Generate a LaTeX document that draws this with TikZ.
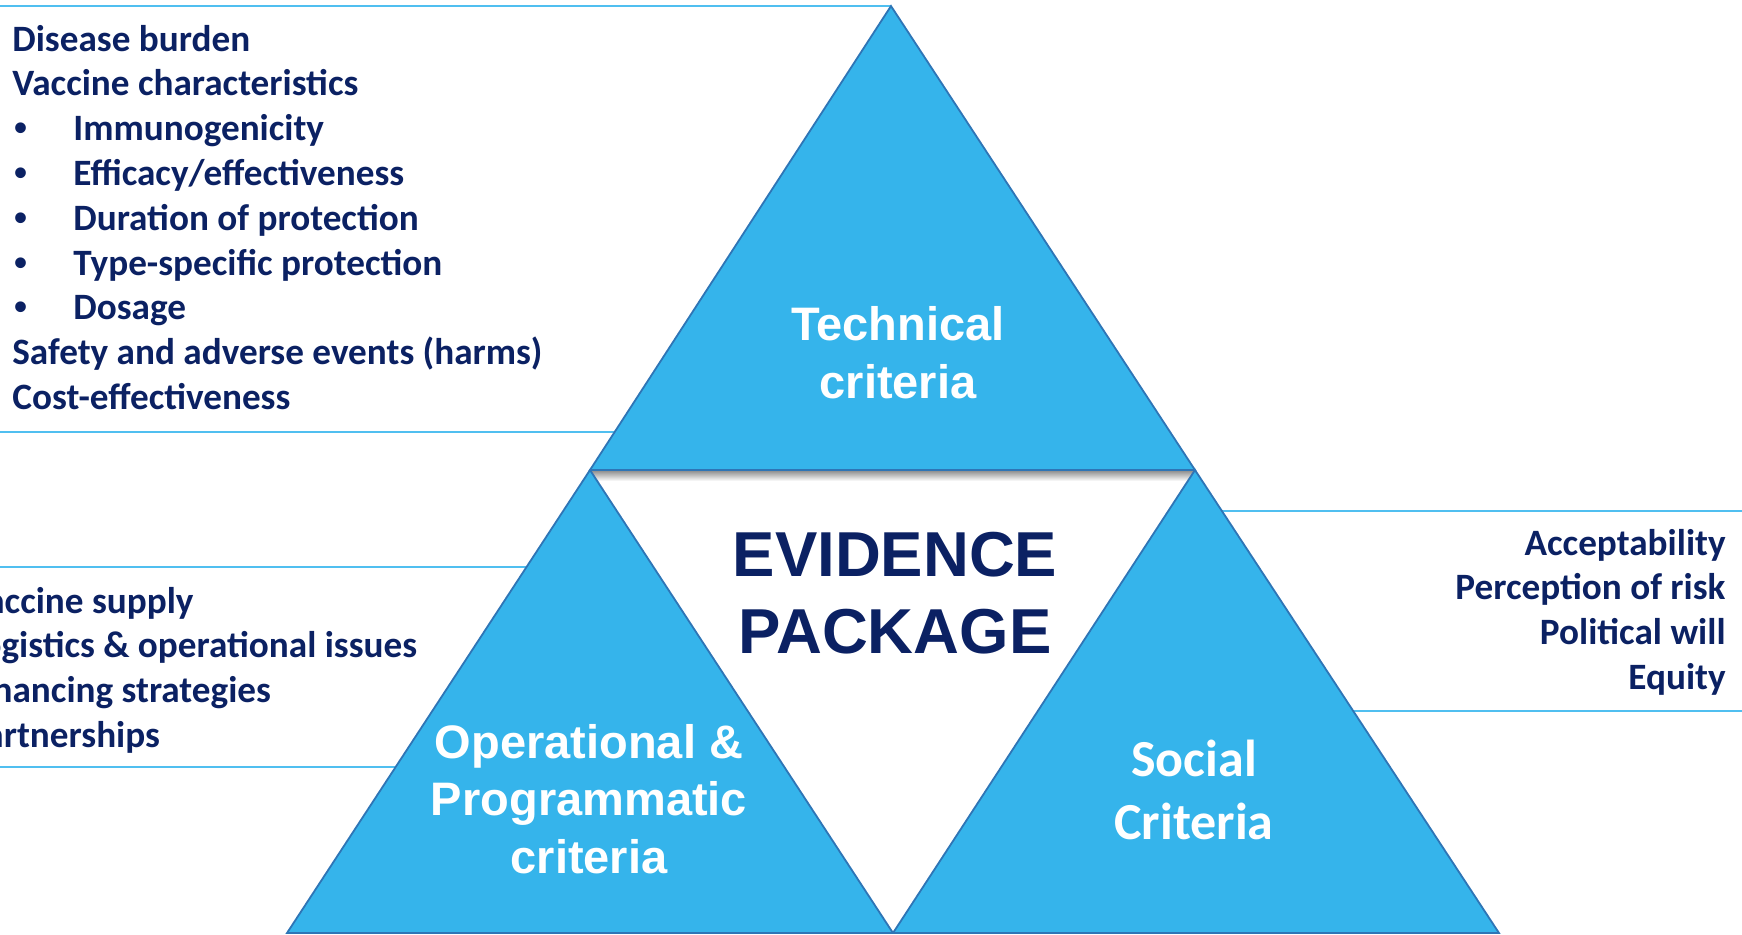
\documentclass[tikz,border=0pt]{standalone}
\usepackage{fontspec}
\setmainfont{Carlito}
\newfontfamily\headfont{Liberation Sans}
\usetikzlibrary{calc}

\definecolor{critblue}{HTML}{35B4EB}
\definecolor{critedge}{HTML}{2E75B6}
\definecolor{lineblue}{HTML}{50BFF0}
\definecolor{navy}{HTML}{0B2163}

\newcommand\bul{\makebox[30.5pt][l]{\hspace{1.2pt}{\headfont\textbullet}}}

\begin{document}
\begin{tikzpicture}[x=0.5pt,y=-0.5pt,
    tripiece/.style={fill=critblue, draw=critedge, line width=0.9pt, line join=miter},
    sideline/.style={draw=lineblue, line width=1.1pt},
    critlist/.style={inner sep=0pt, text=navy, align=left,
      font=\bfseries\fontsize{18.6}{22.4}\selectfont},
    crittitle/.style={inner sep=0pt, text=white, align=center}]
  \useasboundingbox (0,0) rectangle (1742,934);
  \clip (0,0) rectangle (1742,934);

  % corners of the three triangles
  \coordinate (top) at (891,6);
  \coordinate (midL) at (590,470);
  \coordinate (midR) at (1195,470);
  \coordinate (botL) at (287,933);
  \coordinate (botM) at (893,933);
  \coordinate (botR) at (1499,933);

  % rules framing the lists, they run under the triangles
  \draw[sideline] (0,6) -- (top);
  \draw[sideline] (0,432) -- (700,432);
  \draw[sideline] (0,567) -- (600,567);
  \draw[sideline] (0,767) -- (500,767);
  \draw[sideline] (1200,511) -- (1742,511);
  \draw[sideline] (1300,711) -- (1742,711);

  \draw[tripiece] (top) -- (midR) -- (midL) -- cycle;
  \shade[top color=black!40, bottom color=white] ($(midL)+(0,1.5)$) rectangle ($(midR)+(0,11)$);
  \draw[tripiece] (midL) -- (botM) -- (botL) -- cycle;
  \draw[tripiece] (midR) -- (botR) -- (botM) -- cycle;

  % the base anchor of these sits on the last line
  \node[crittitle, anchor=base, font=\headfont\bfseries\fontsize{23.5}{29}\selectfont]
    (tech) at (898,398) {Technical\\criteria};
  \node[crittitle, anchor=base, font=\headfont\bfseries\fontsize{23.5}{28.75}\selectfont]
    (ops) at (589,873) {Operational \&\\Programmatic\\criteria};
  \node[crittitle, anchor=base, font=\bfseries\fontsize{26}{31.5}\selectfont]
    (soc) at (1194,839) {Social\\Criteria};
  \node[crittitle, anchor=base, text=navy, font=\headfont\bfseries\fontsize{31.75}{38.5}\selectfont]
    (evidence) at (895,653) {EVIDENCE\\PACKAGE};

  \node[critlist, anchor=base west] (techlist) at (12,409.4) {Disease burden\\
    Vaccine characteristics\\
    \bul Immunogenicity\\
    \bul Efficacy/effectiveness\\
    \bul Duration of protection\\
    \bul Type-specific protection\\
    \bul Dosage\\
    Safety and adverse events (harms)\\
    Cost-effectiveness};
  \node[critlist, anchor=base west] (opslist) at (-34,747.4) {Vaccine supply\\
    Logistics \& operational issues\\
    Financing strategies\\
    Partnerships};
  \node[critlist, anchor=base east, align=right] (soclist) at (1726,689.4) {Acceptability\\
    Perception of risk\\
    Political will\\
    Equity};
\end{tikzpicture}
\end{document}
